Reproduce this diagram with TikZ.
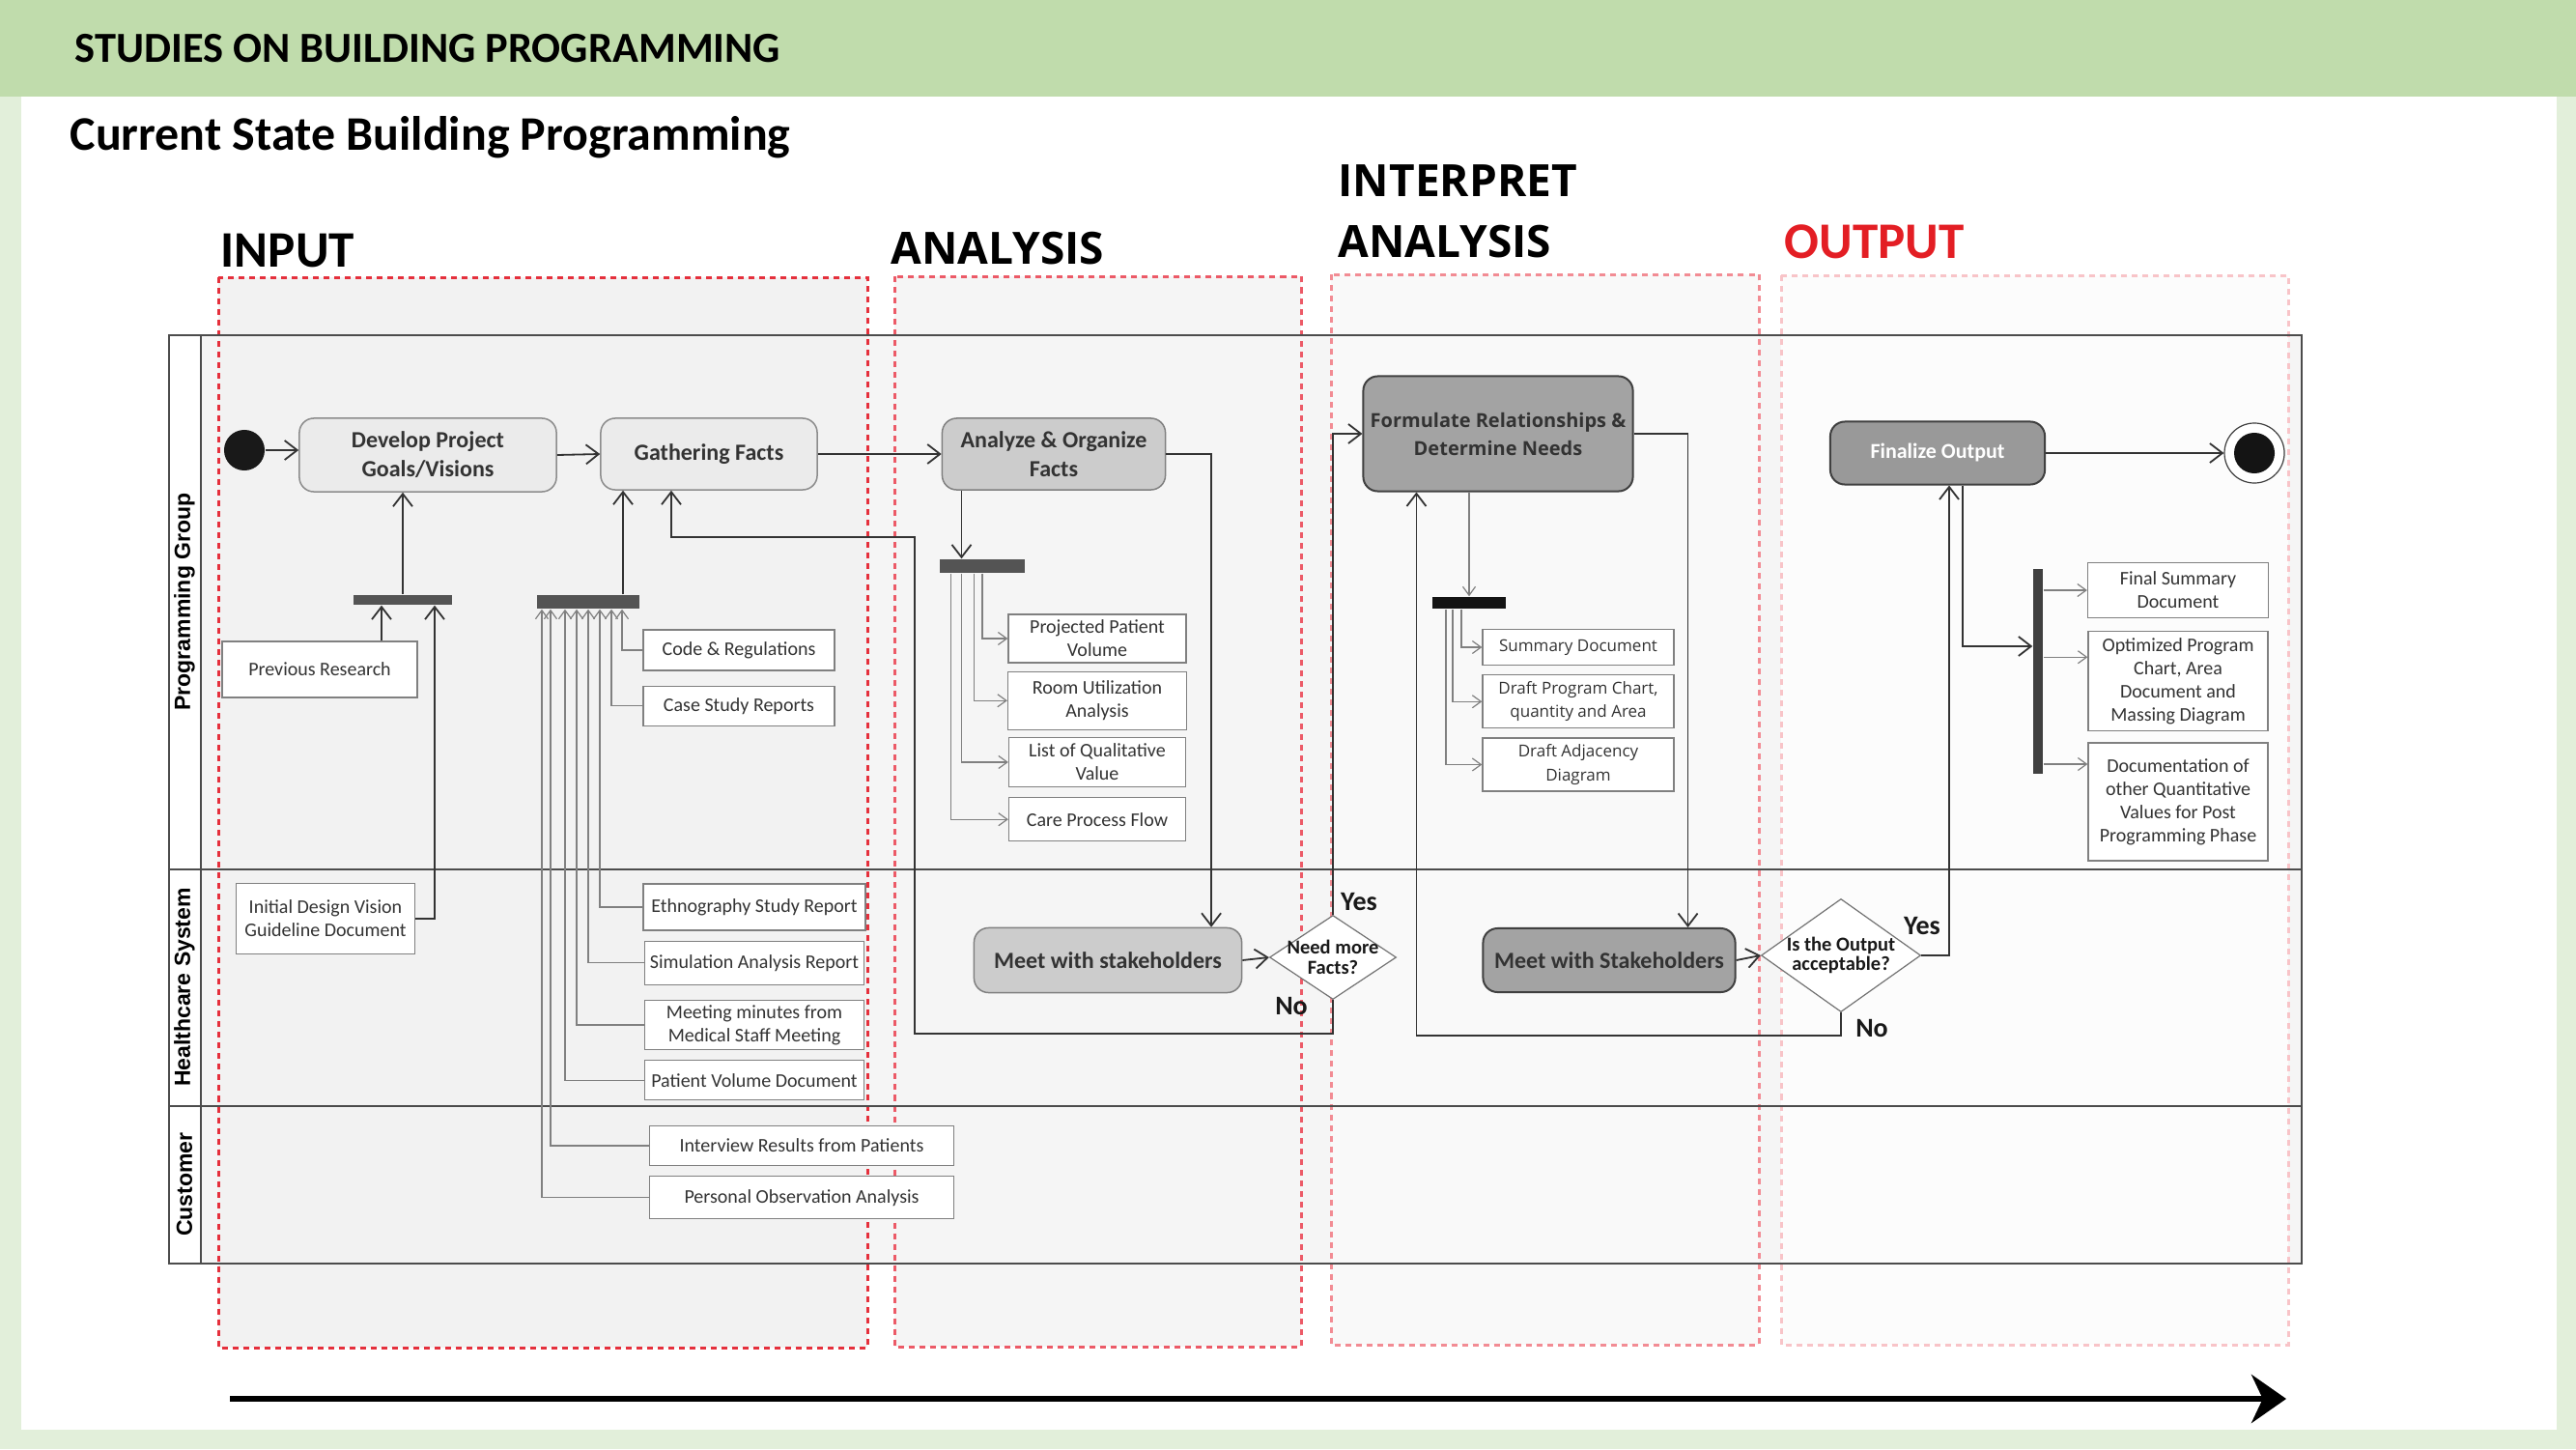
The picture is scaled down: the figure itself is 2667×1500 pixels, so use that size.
\documentclass[tikz,border=0pt]{standalone}
\usepackage{fontspec}
\setmainfont{Carlito}
\newfontfamily\opensans{Open Sans}
\newfontfamily\arialsans{Liberation Sans}
\usetikzlibrary{arrows.meta,positioning,shapes.geometric}
\definecolor{bandgreen}{HTML}{C0DCAC}
\definecolor{palegreen}{HTML}{E2EFDA}
\definecolor{inkgray}{HTML}{333333}
\definecolor{inputred}{HTML}{E5303C}
\definecolor{analysisred}{HTML}{EC5A67}
\definecolor{interpretred}{HTML}{F28C94}
\definecolor{outputred}{HTML}{F8C4C8}
\definecolor{headred}{HTML}{E31E24}
\begin{document}
\begin{tikzpicture}[x=0.01cm,y=-0.01cm,every node/.style={font=\fontsize{5.69pt}{6.83pt}\selectfont,text=inkgray},activity/.style={rectangle,rounded corners=0.15cm,draw=black!45,fill=black!8,line width=0.015cm,align=center,inner sep=0pt,font=\bfseries\fontsize{6.83pt}{8.54pt}\selectfont},midact/.style={activity,fill=black!20,draw=black!50},darkact/.style={activity,fill=black!36,draw=black!75,line width=0.02cm},doc/.style={rectangle,draw=black!50,fill=white,line width=0.012cm,align=center,inner sep=0pt},idoc/.style={doc,font=\opensans\fontsize{4.84pt}{6.97pt}\selectfont},bar/.style={rectangle,fill=black!67,inner sep=0pt},decision/.style={diamond,draw=black!55,fill=white,inner sep=0pt,line width=0.012cm},dtext/.style={align=center,inner sep=0pt,text=black!90,font=\bfseries\fontsize{5.83pt}{5.9pt}\selectfont},startstate/.style={circle,fill=black!90,minimum size=0.42cm,inner sep=0pt},endstate/.style={circle,draw=black!75,fill=white,line width=0.012cm,minimum size=0.62cm,inner sep=0pt,path picture={\fill[black!92](path picture bounding box.center) circle (0.21cm);}},lane/.style={rotate=90,text=black,font=\arialsans\bfseries\fontsize{6.54pt}{7.5pt}\selectfont},heading/.style={anchor=base west,inner sep=0pt,text=black},yesno/.style={text=black!90,font=\bfseries\fontsize{7.97pt}{9pt}\selectfont},zone/.style={line width=0.03cm,dash pattern=on 0.06cm off 0.05cm},lanerule/.style={draw=black!70,line width=0.02cm},flow/.style={draw=black!80,line width=0.018cm,-{Straight Barb[length=0.13cm,width=0.2cm]}},dataflow/.style={draw=black!50,line width=0.012cm,-{Straight Barb[length=0.09cm,width=0.13cm]}},timeline/.style={line width=0.06cm,-{Stealth[length=0.36cm,width=0.5cm]}}]
\useasboundingbox (0,0) rectangle (2667,1500);
\fill[bandgreen](0,0)rectangle(2667,100);
\fill[palegreen](0,100)rectangle(22,1500);
\fill[palegreen](2647,100)rectangle(2667,1500);
\fill[palegreen](0,1480)rectangle(2667,1500);
\node[heading,font=\bfseries\fontsize{12.63pt}{15pt}\selectfont](title) at (77,65){STUDIES ON BUILDING PROGRAMMING};
\node[heading,font=\bfseries\fontsize{14.2pt}{16pt}\selectfont](subtitle) at (72,156){Current State Building Programming};
\fill[black!4](208,347)rectangle(2383,1308);
\draw[zone,draw=inputred,fill=black!5](226,287)rectangle(898,1395);
\draw[zone,draw=analysisred,fill=black!4](926,286)rectangle(1347,1394);
\draw[zone,draw=interpretred,fill=black!2.5](1378,284)rectangle(1821,1392);
\draw[zone,draw=outputred,fill=black!1](1844,285)rectangle(2369,1392);
\draw[lanerule](175,347)rectangle(2383,1308);
\draw[lanerule](208,347)--(208,1308);
\draw[lanerule](175,900)--(2383,900);
\draw[lanerule](175,1145)--(2383,1145);
\node[heading,font=\bfseries\fontsize{15.08pt}{18pt}\selectfont](input) at (228,276){INPUT};
\node[heading,font=\opensans\bfseries\fontsize{13.09pt}{17.9pt}\selectfont](analysis) at (922,273){ANALYSIS};
\node[heading,anchor=north west,align=left,font=\opensans\bfseries\fontsize{13.09pt}{17.9pt}\selectfont](interpret) at (1385,170){INTERPRET\\ANALYSIS};
\node[heading,text=headred,font=\bfseries\fontsize{15.08pt}{18pt}\selectfont](output) at (1847,267){OUTPUT};
\node[lane](lanepg) at (191,623){Programming Group};
\node[lane](lanehs) at (191,1022){Healthcare System};
\node[lane](lanecu) at (191,1226){Customer};
\node[startstate](start) at (253,466){};
\node[activity,minimum width=2.66cm,minimum height=0.76cm](develop) at (443,471){Develop Project\\Goals/Visions};
\node[activity,minimum width=2.24cm,minimum height=0.74cm](gathering) at (734,470){Gathering Facts};
\node[midact,minimum width=2.31cm,minimum height=0.74cm](analyze) at (1091,470){Analyze \& Organize\\Facts};
\node[darkact,minimum width=2.79cm,minimum height=1.19cm,font=\opensans\bfseries\fontsize{5.69pt}{8.25pt}\selectfont](formulate) at (1551,449){Formulate Relationships \&\\Determine Needs};
\node[darkact,fill=black!40,text=white,minimum width=2.22cm,minimum height=0.65cm,font=\bfseries\fontsize{6.26pt}{7.5pt}\selectfont](finalize) at (2006,469){Finalize Output};
\node[endstate](finish) at (2334,469){};
\node[bar,minimum width=1.02cm,minimum height=0.1cm](jbar) at (417,621){};
\node[bar,minimum width=1.05cm,minimum height=0.14cm](gbar) at (609,623){};
\node[bar,minimum width=0.87cm,minimum height=0.14cm](abar) at (1017,586){};
\node[bar,fill=black!92,minimum width=0.76cm,minimum height=0.12cm](fbar) at (1521,624){};
\node[bar,fill=black!75,minimum width=0.1cm,minimum height=2.12cm](obar) at (2110,695){};
\node[doc,minimum width=2.02cm,minimum height=0.58cm](prev) at (331,693){Previous Research};
\node[doc,minimum width=1.85cm,minimum height=0.73cm](idv) at (337,951){Initial Design Vision\\Guideline Document};
\node[doc,minimum width=1.98cm,minimum height=0.42cm](code) at (765,673){Code \& Regulations};
\node[doc,minimum width=1.98cm,minimum height=0.41cm,below=0.15cm of code](case){Case Study Reports};
\node[doc,minimum width=2.3cm,minimum height=0.48cm](ethno) at (781,939){Ethnography Study Report};
\node[doc,minimum width=2.27cm,minimum height=0.45cm,below=0.1cm of ethno](sim){Simulation Analysis Report};
\node[doc,minimum width=2.27cm,minimum height=0.51cm,below=0.15cm of sim](mtg){Meeting minutes from\\Medical Staff Meeting};
\node[doc,minimum width=2.27cm,minimum height=0.41cm,below=0.1cm of mtg](pvd){Patient Volume Document};
\node[doc,minimum width=3.15cm,minimum height=0.41cm](intv) at (830,1186){Interview Results from Patients};
\node[doc,minimum width=3.15cm,minimum height=0.44cm,below=0.1cm of intv](pobs){Personal Observation Analysis};
\node[doc,minimum width=1.84cm,minimum height=0.5cm](ppv) at (1136,661){Projected Patient\\Volume};
\node[doc,minimum width=1.85cm,minimum height=0.6cm,below=0.08cm of ppv](rua){Room Utilization\\Analysis};
\node[doc,minimum width=1.83cm,minimum height=0.51cm,below=0.07cm of rua](lqv){List of Qualitative\\Value};
\node[doc,minimum width=1.83cm,minimum height=0.45cm,below=0.1cm of lqv](cpf){Care Process Flow};
\node[midact,minimum width=2.77cm,minimum height=0.67cm](meet1) at (1147,994){Meet with stakeholders};
\node[decision,minimum width=1.31cm,minimum height=0.87cm,label={[dtext]center:{Need more\\Facts?}}](need) at (1380,991){};
\node[idoc,minimum width=1.98cm,minimum height=0.37cm](sumdoc) at (1634,670){Summary Document};
\node[idoc,minimum width=1.98cm,minimum height=0.55cm,below=0.09cm of sumdoc](dpc){Draft Program Chart,\\quantity and Area};
\node[idoc,minimum width=1.98cm,minimum height=0.55cm,below=0.09cm of dpc](dad){Draft Adjacency\\Diagram};
\node[darkact,minimum width=2.61cm,minimum height=0.66cm](meet2) at (1666,994){Meet with Stakeholders};
\node[decision,minimum width=1.65cm,minimum height=1.17cm,label={[dtext]center:{Is the Output\\acceptable?}}](accept) at (1906,989){};
\node[doc,minimum width=1.87cm,minimum height=0.57cm](fsd) at (2255,611){Final Summary\\Document};
\node[doc,minimum width=1.86cm,minimum height=1.03cm,below=0.13cm of fsd](opc){Optimized Program\\Chart, Area\\Document and\\Massing Diagram};
\node[doc,minimum width=1.86cm,minimum height=1.22cm,below=0.11cm of opc](qdoc){Documentation of\\other Quantitative\\Values for Post\\Programming Phase};
\node[yesno](yes1) at (1407,934){Yes};
\node[yesno](no1) at (1337,1042){No};
\node[yesno](yes2) at (1990,959){Yes};
\node[yesno](no2) at (1938,1065){No};
\coordinate (j1) at ([xshift=-0.22cm]jbar.south);
\coordinate (j2) at ([xshift=0.33cm]jbar.south);
\coordinate (g0) at ([xshift=0.36cm]gbar.north);
\coordinate (a0) at ([xshift=-0.215cm]abar.north);
\coordinate (m1) at ([xshift=1.07cm]meet1.north);
\coordinate (gf) at ([xshift=-0.39cm]gathering.south);
\coordinate (m2) at ([xshift=0.815cm]meet2.north);
\coordinate (fn) at ([xshift=-0.845cm]formulate.south);
\coordinate (fy) at ([xshift=0.12cm]finalize.south);
\coordinate (fo) at ([xshift=0.26cm]finalize.south);
\coordinate (oi) at ([yshift=0.26cm]obar.west);
\draw[flow](start)--(start-|develop.west);\draw[flow](develop.east)--(gathering.west);\draw[flow](gathering.east)--(analyze.west);\draw[flow](jbar.north)--(jbar.north|-develop.south);\draw[flow](g0)--(g0|-gathering.south);\draw[flow](j1|-prev.north)--(j1);\draw[flow](idv.east)-|(j2);
\foreach \src/\dx in {code/0.35,case/0.24,ethno/0.12,sim/0,mtg/-0.12,pvd/-0.24,intv/-0.39,pobs/-0.48}{\draw[dataflow](\src.west)-|([xshift=\dx cm]gbar.south);}
\draw[flow](a0|-analyze.south)--(a0);
\foreach \src/\dx in {ppv/0,rua/-0.085,lqv/-0.215,cpf/-0.325}{\draw[dataflow]([xshift=\dx cm]abar.south)|-(\src.west);}
\draw[flow](analyze.east)-|(m1);\draw[flow](meet1.east)--(need.west);\draw[flow](need.north)|-(formulate.west);\draw[flow](need.south)--++(0,35)-|(947,556)-|(gf);
\draw[dataflow](fbar.north|-formulate.south)--(fbar.north);
\foreach \src/\dx in {sumdoc/-0.08,dpc/-0.17,dad/-0.24}{\draw[dataflow]([xshift=\dx cm]fbar.south)|-(\src.west);}
\draw[flow](formulate.east)-|(m2);\draw[flow](meet2.east)--(accept.west);\draw[flow](accept.south)--++(0,24)-|(fn);\draw[flow](accept.east)-|(fy);
\draw[flow](finalize.east)--(finish.west);\draw[flow](fo)|-(oi);
\draw[dataflow](obar.east|-fsd.west)--(fsd.west);
\foreach \src/\dy in {opc/0.25,qdoc/0.39}{\coordinate (t) at ([yshift=\dy cm]\src.west);\draw[dataflow](t-|obar.east)--(t);}
\coordinate (tstart) at (238,1448);
\coordinate (tend) at (2367,1448);
\draw[timeline](tstart)--(tend);
\end{tikzpicture}
\end{document}
